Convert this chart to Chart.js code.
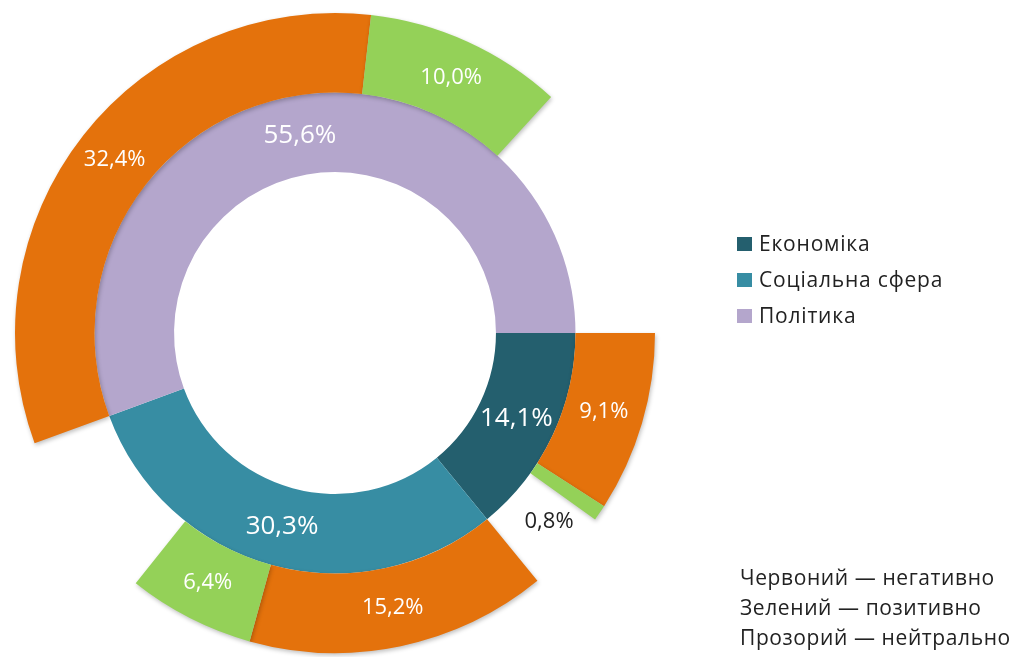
<!DOCTYPE html>
<html>
<head>
<meta charset="utf-8">
<script src="https://cdn.jsdelivr.net/npm/chart.js@4/dist/chart.umd.min.js"></script>
<style>
  body { margin: 0; background: #fff; font-family: "Open Sans", sans-serif; }
  #wrap { position: relative; width: 1029px; height: 657px; }
  #legend { position: absolute; left: 737px; top: 228px; color: #222; font-size: 21px; letter-spacing: 0.8px; }
  #legend div { height: 36px; line-height: 30px; white-space: nowrap; }
  #legend span.box { display: inline-block; width: 15px; height: 14px; margin-right: 7px; vertical-align: 0px; }
  #notes { position: absolute; left: 740px; top: 562px; color: #222; font-size: 21px; letter-spacing: 0.6px; line-height: 30px; white-space: nowrap; }
</style>
</head>
<body>
<div id="wrap">
  <canvas id="chart" width="1029" height="657"></canvas>
  <div id="legend"></div>
  <div id="notes">
    <div>Червоний — негативно</div>
    <div>Зелений — позитивно</div>
    <div>Прозорий — нейтрально</div>
  </div>
</div>
<script>
const categories = ['Економіка', 'Соціальна сфера', 'Політика'];
const shares = [14.1, 30.3, 55.6];
const negative = [9.1, 15.2, 32.4];
const positive = [0.8, 6.4, 10.0];

const categoryColors = ['#245f6e', '#378da3', '#b4a6cc'];
const negColor = '#e4720c';
const posColor = '#94d158';

// outer ring: negative, positive, then the neutral rest of each category
const outerValues = [];
const outerColors = [];
const outerKinds = [];
categories.forEach((c, i) => {
  const neutral = +(shares[i] - negative[i] - positive[i]).toFixed(1);
  outerValues.push(negative[i], positive[i], neutral);
  outerColors.push(negColor, posColor, 'rgba(0,0,0,0)');
  outerKinds.push('neg', 'pos', 'neu');
});

const fmt = v => v.toFixed(1).replace('.', ',') + '%';

const legend = document.getElementById('legend');
categories.forEach((c, i) => {
  const row = document.createElement('div');
  row.innerHTML = '<span class="box" style="background:' + categoryColors[i] + '"></span>' + c;
  legend.appendChild(row);
});

// soft shadow under the outer ring, like the original
const shadowPlugin = {
  id: 'ringShadow',
  beforeDatasetDraw(chart, args) {
    chart.ctx.save();
    if (args.index === 0) {
      chart.ctx.shadowColor = 'rgba(0,0,0,0.25)';
      chart.ctx.shadowBlur = 4;
      chart.ctx.shadowOffsetX = 1;
      chart.ctx.shadowOffsetY = 2;
    }
  },
  afterDatasetDraw(chart) {
    chart.ctx.restore();
  }
};

const labelPlugin = {
  id: 'sliceLabels',
  afterDatasetsDraw(chart) {
    const ctx = chart.ctx;
    ctx.save();
    ctx.textAlign = 'center';
    ctx.textBaseline = 'middle';
    // inner ring
    chart.getDatasetMeta(1).data.forEach((arc, i) => {
      const p = arc.getCenterPoint();
      ctx.font = '26px "Open Sans"';
      ctx.fillStyle = '#fff';
      ctx.fillText(fmt(shares[i]), p.x, p.y);
    });
    // outer ring
    chart.getDatasetMeta(0).data.forEach((arc, i) => {
      if (outerKinds[i] === 'neu') return;
      const v = outerValues[i];
      ctx.font = '22px "Open Sans"';
      if (v < 2) {
        const a = arc.endAngle + 0.1;
        const r = (arc.innerRadius + arc.outerRadius) / 2 + 5;
        ctx.fillStyle = '#222';
        ctx.fillText(fmt(v), arc.x + Math.cos(a) * r, arc.y + Math.sin(a) * r);
      } else {
        const p = arc.getCenterPoint();
        ctx.fillStyle = '#fff';
        ctx.fillText(fmt(v), p.x, p.y);
      }
    });
    ctx.restore();
  }
};

new Chart(document.getElementById('chart'), {
  type: 'doughnut',
  data: {
    labels: outerValues.map((v, i) => i),
    datasets: [
      { data: outerValues, backgroundColor: outerColors, borderWidth: 0 },
      { data: shares, backgroundColor: categoryColors, borderWidth: 0 }
    ]
  },
  options: {
    responsive: false,
    animation: false,
    rotation: 90,
    cutout: '50.3%',
    layout: { padding: { left: 15, right: 374, top: 13, bottom: 4 } },
    plugins: { legend: { display: false }, tooltip: { enabled: false } }
  },
  plugins: [shadowPlugin, labelPlugin]
});
</script>
</body>
</html>
